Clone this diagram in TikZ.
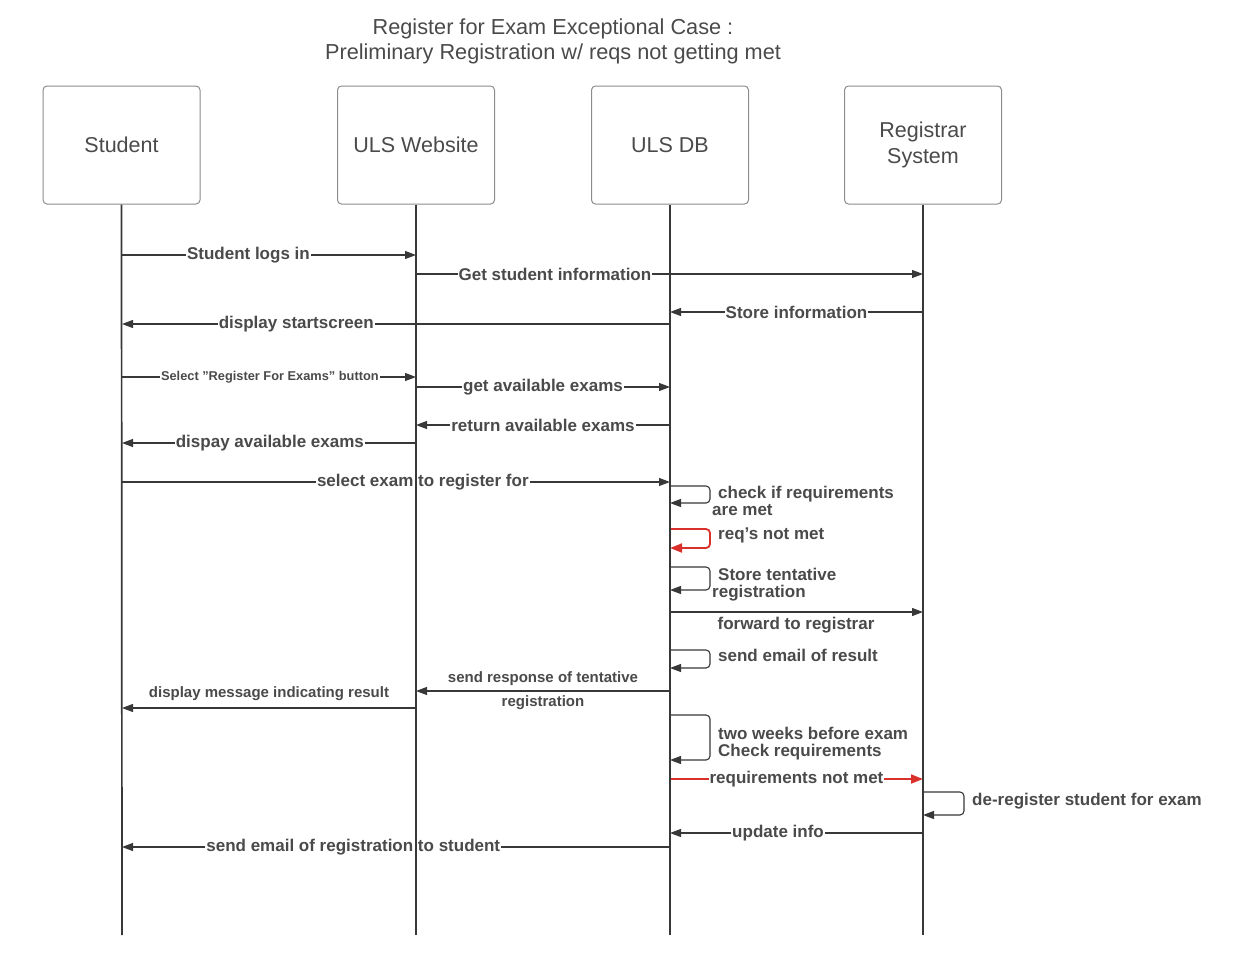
\documentclass[tikz,border=0pt]{standalone}
\usepackage{fontspec}
\setmainfont{Liberation Sans}
\usetikzlibrary{arrows.meta}
\definecolor{ink}{HTML}{383838}
\definecolor{txt}{HTML}{4A4A4A}
\definecolor{boxc}{HTML}{8C8C8C}
\definecolor{redl}{HTML}{D9302B}
\begin{document}
\begin{tikzpicture}[x=1pt,y=-1pt,
  actor/.style={draw=boxc, rounded corners=4pt, line width=1pt, minimum width=157pt, minimum height=118pt, text=txt, font=\fontsize{21.5}{26}\selectfont, align=center},
  life/.style={draw=ink, line width=1.7pt},
  msg/.style={draw=ink, line width=1.1pt, -{Triangle[length=11pt,width=8pt]}},
  redmsg/.style={draw=redl, line width=1.8pt, -{Triangle[length=12pt,width=9pt]}},
  lbl/.style={fill=white, inner sep=1pt, text=txt, font=\bfseries\fontsize{17}{18}\selectfont},
  slbl/.style={fill=white, inner sep=1pt, text=txt, font=\bfseries\fontsize{15}{16}\selectfont},
  tlbl/.style={fill=white, inner sep=1pt, text=txt, font=\bfseries\fontsize{12.8}{14}\selectfont},
  loopl/.style={inner sep=0pt, text=txt, font=\bfseries\fontsize{17}{17}\selectfont, align=left, anchor=north west},
  ttl/.style={text=txt, font=\fontsize{21.7}{25}\selectfont, align=center}
]
\useasboundingbox (0,0) rectangle (1235,967);

\node[ttl] (title) at (553,41) {Register for Exam Exceptional Case :\\Preliminary Registration w/ reqs not getting met};

\node[actor] (Sb) at (121.5,145) {Student};
\node[actor] (Wb) at (416,145) {ULS Website};
\node[actor] (Db) at (670,145) {ULS DB};
\node[actor] (Rb) at (923,145) {Registrar\\System};

\coordinate (S) at (122,204);
\coordinate (W) at (416,204);
\coordinate (D) at (670,204);
\coordinate (R) at (923,204);
\coordinate (Se) at (122,935);
\coordinate (We) at (416,935);
\coordinate (De) at (670,935);
\coordinate (Re) at (923,935);

% messages
\draw[msg] (S |- 0,255) -- node[lbl,pos=0.43] (m1) {Student logs in} (W |- 0,255);
\draw[msg] (W |- 0,274) -- node[lbl,pos=0.274] (m2) {Get student information} (R |- 0,274);
\draw[msg] (R |- 0,312) -- node[lbl,pos=0.5] (m3) {Store information} (D |- 0,312);
\draw[msg] (D |- 0,324) -- node[lbl,pos=0.682] (m4) {display startscreen} (S |- 0,324);
\draw[msg] (S |- 0,377) -- node[tlbl,pos=0.503] (m5) {Select \symbol{34}Register For Exams\symbol{34} button} (W |- 0,377);
\draw[msg] (W |- 0,387) -- node[lbl,pos=0.5] (m6) {get available exams} (D |- 0,387);
\draw[msg] (D |- 0,425) -- node[lbl,pos=0.5] (m7) {return available exams} (W |- 0,425);
\draw[msg] (W |- 0,443) -- node[lbl,pos=0.497] (m8) {dispay available exams} (S |- 0,443);
\draw[msg] (S |- 0,482) -- node[lbl,pos=0.549] (m9) {select exam to register for} (D |- 0,482);

% self loops on DB
\draw[msg, rounded corners=4pt] (D |- 0,486) -| (710,503) -- (D |- 0,503);
\node[loopl] (l1) at (712,486) {\hspace*{6pt}check if requirements\\are met};
\draw[redmsg, rounded corners=4pt] (D |- 0,529) -| (710,548) -- (D |- 0,548);
\node[loopl] (l2) at (718,528) {req's not met};
\draw[msg, rounded corners=4pt] (D |- 0,567) -| (710,590) -- (D |- 0,590);
\node[loopl] (l3) at (712,568) {\hspace*{6pt}Store tentative\\registration};

\draw[msg] (D |- 0,612) -- (R |- 0,612);
\node[lbl] (m13) at (796,625) {forward to registrar};

\draw[msg, rounded corners=4pt] (D |- 0,650) -| (710,668) -- (D |- 0,668);
\node[loopl] (l4) at (718,649) {send email of result};

\draw[msg] (D |- 0,691) -- node[slbl,pos=0.5,above=4pt] (m15a) {send response of tentative} node[slbl,pos=0.5,below=3pt] (m15b) {registration} (W |- 0,691);
\draw[msg] (W |- 0,708) -- node[slbl,pos=0.5,above=6pt] (m16) {display message indicating result} (S |- 0,708);

\draw[msg, rounded corners=4pt] (D |- 0,715) -| (710,760) -- (D |- 0,760);
\node[loopl] (l5) at (718,727) {two weeks before exam\\Check requirements};

\draw[redmsg] (D |- 0,779) -- node[lbl,pos=0.5,text=txt] (m18) {requirements not met} (R |- 0,779);

\draw[msg, rounded corners=4pt] (R |- 0,792) -| (964,815) -- (R |- 0,815);
\node[loopl] (l6) at (972,793) {de-register student for exam};

\draw[msg] (R |- 0,833) -- node[lbl,pos=0.573] (m20) {update info} (D |- 0,833);
\draw[msg] (D |- 0,847) -- node[lbl,pos=0.578] (m21) {send email of registration to student} (S |- 0,847);

% lifelines (drawn on top)
\draw[life] (Sb.south) -- (Se);
\draw[life] (Wb.south) -- (We);
\draw[life] (Db.south) -- (De);
\draw[life] (Rb.south) -- (Re);
\end{tikzpicture}
\end{document}
